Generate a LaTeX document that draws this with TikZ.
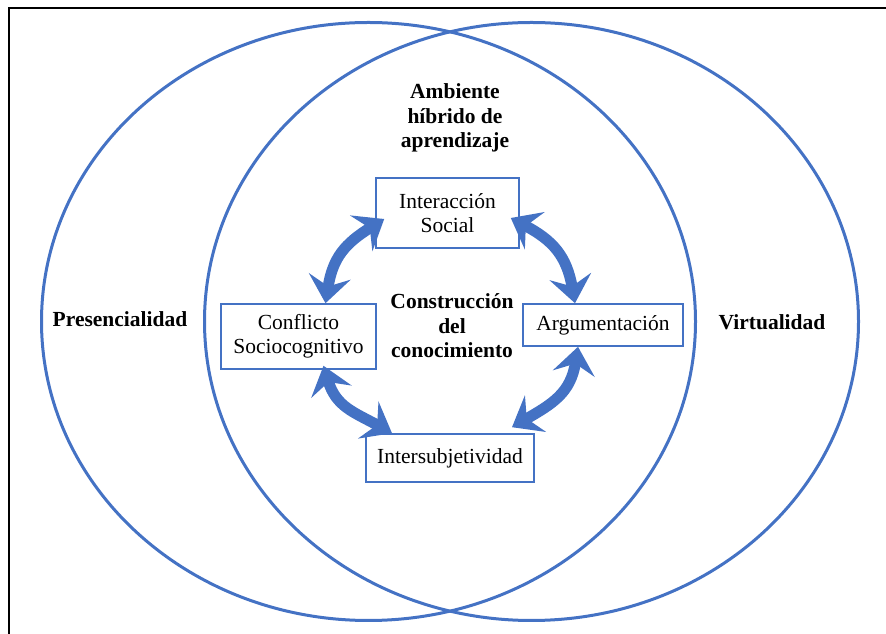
\documentclass[tikz,border=0pt]{standalone}
\usepackage{fontspec}
\setmainfont{Liberation Serif}
\usepackage{tikz}
\usetikzlibrary{positioning,arrows.meta}
\definecolor{vennblue}{RGB}{68,114,196}
\tikzset{
  zone/.style={draw=vennblue,line width=3pt},
  concept/.style={rectangle,draw=vennblue,line width=1.6pt,fill=white,align=center,inner sep=2pt,font=\fontsize{21.5}{24.5}\selectfont},
  heading/.style={align=center,inner sep=1pt,font=\fontsize{21.5}{24.5}\selectfont\bfseries},
  duoedge/.style={{Stealth[length=27pt,width=42pt,inset=10pt]}-{Stealth[length=27pt,width=42pt,inset=10pt]},draw=vennblue,line width=11pt,looseness=1.15}
}

\begin{document}
\begin{tikzpicture}[x=1pt,y=1pt]
  \useasboundingbox (0,0) rectangle (886,634);
  \draw[line width=2pt] (9,0) -- (9,626) -- (886,626);
  \draw[zone] (368.5,312.5) ellipse [x radius=327,y radius=299];
  \draw[zone] (531.5,312.5) ellipse [x radius=327,y radius=299];
  \node[heading] (pres) at (120,315) {Presencialidad};
  \node[heading] (virt) at (772,312) {Virtualidad};
  \node[heading] (amb) at (455,516) {Ambiente\\híbrido de\\aprendizaje};
  \node[heading] (constr) at (452,308) {Construcción\\del\\conocimiento};
  \node[concept,minimum width=143pt,minimum height=70pt] (is) at (447.5,421) {Interacción\\Social};
  \node[concept,minimum width=155pt,minimum height=65pt] (cs) at (298.5,297.5) {Conflicto\\Sociocognitivo};
  \node[concept,minimum width=160pt,minimum height=42pt] (arg) at (603,309) {Argumentación};
  \node[concept,minimum width=168pt,minimum height=48pt] (inter) at (450,176) {Intersubjetividad};
  \draw[duoedge] ([xshift=27pt]cs.north) to[out=81,in=212] ([xshift=9pt,yshift=-6pt]is.west);
  \draw[duoedge] ([xshift=-9pt,yshift=-5pt]is.east) to[out=-28,in=100] ([xshift=-28pt]arg.north);
  \draw[duoedge] ([xshift=25pt,yshift=4pt]cs.south) to[out=-73,in=151] ([xshift=-58pt]inter.north);
  \draw[duoedge] ([xshift=-25pt]arg.south) to[out=261,in=30] ([xshift=62pt,yshift=6pt]inter.north);
\end{tikzpicture}
\end{document}
